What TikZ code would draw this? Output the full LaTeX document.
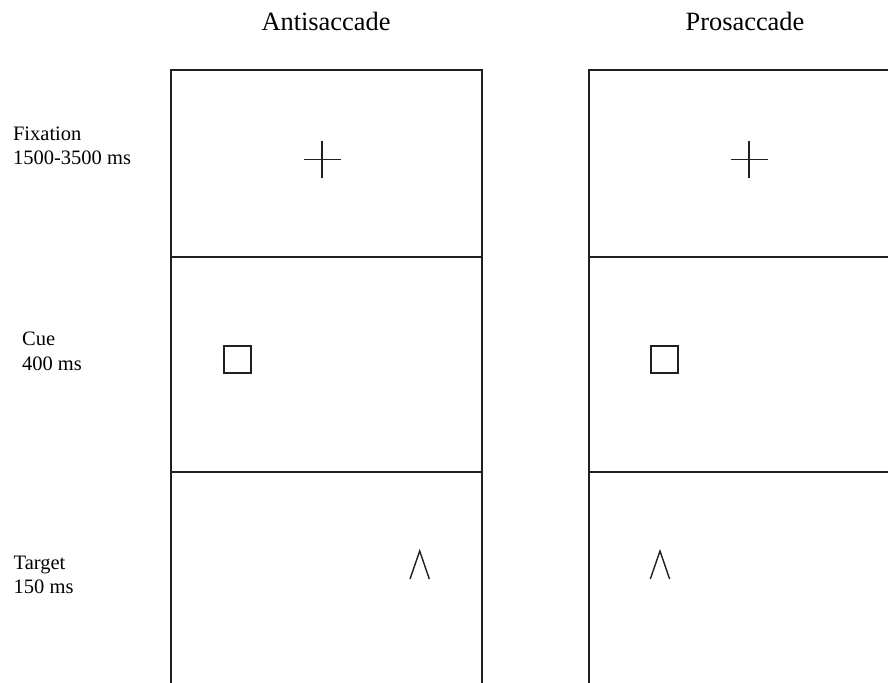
\documentclass[tikz,border=0pt]{standalone}
\usepackage{fontspec}
\setmainfont{Liberation Serif}
\begin{document}
\begin{tikzpicture}[x=0.5pt, y=-0.5pt,
		frame/.style={line width=1pt, black!88},
		stim/.style={line width=0.7pt, black!88},
		title/.style={anchor=base, inner sep=0pt, font=\fontsize{13.2}{15}\selectfont},
		lbl/.style={anchor=base west, inner sep=0pt, font=\fontsize{10.25}{12.5}\selectfont}]
			\useasboundingbox (0,0) rectangle (888,683);
			\clip (0,0) rectangle (888,683);
			% column titles
			\node[title] (anti) at (326,30.7) {Antisaccade};
			\node[title] (pro) at (745,30.7) {Prosaccade};
			% phase labels
			\node[lbl] (fixname) at (12.7,141) {Fixation};
			\node[lbl] (fixtime) at (12.7,165) {1500-3500 ms};
			\node[lbl] (cuename) at (21.7,346) {Cue};
			\node[lbl] (cuetime) at (21.7,370.5) {400 ms};
			\node[lbl] (tarname) at (13.3,569) {Target};
			\node[lbl] (tartime) at (13.3,593) {150 ms};
			% antisaccade screens
			\draw[frame] (171,690) -- (171,70) -- (482,70) -- (482,690);
			\draw[frame] (171,257) -- (482,257);
			\draw[frame] (171,472) -- (482,472);
			% prosaccade screens
			\draw[frame] (588.5,690) -- (588.5,70) -- (900,70);
			\draw[frame] (588.5,257) -- (900,257);
			\draw[frame] (588.5,472) -- (900,472);
			% fixation crosses
			\draw[stim] (303.5,159.5) -- (340.5,159.5) (322,141) -- (322,178);
			\draw[stim] (730.5,159.5) -- (767.5,159.5) (749,141) -- (749,178);
			% cues
			\draw[frame] (223.5,346.5) rectangle (250.5,373.5);
			\draw[frame] (650.5,346.5) rectangle (677.5,373.5);
			% targets
			\draw[stim] (410,579) -- (419.7,551) -- (429.3,579);
			\draw[stim] (650.3,579) -- (660,551) -- (669.6,579);
		\end{tikzpicture}
\end{document}
